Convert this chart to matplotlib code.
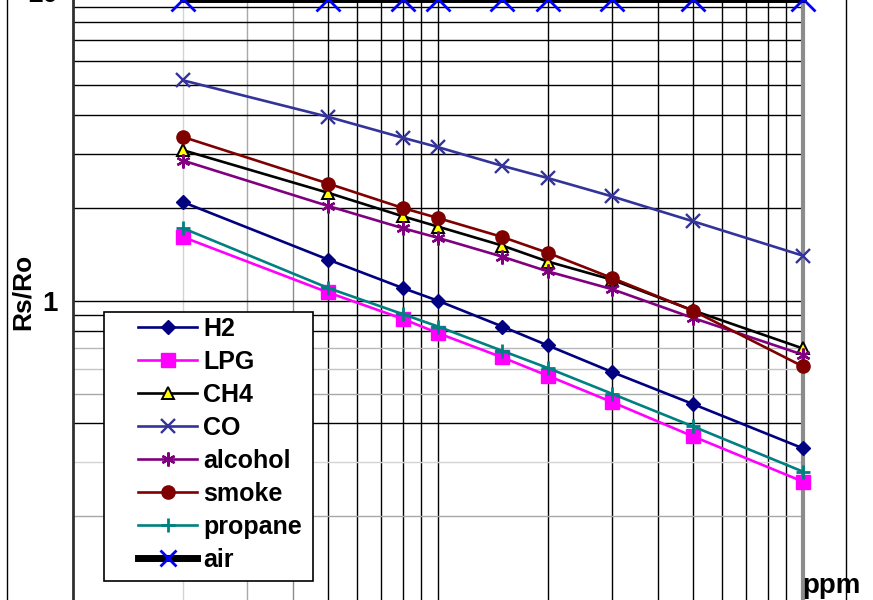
import matplotlib
matplotlib.use("Agg")
import matplotlib.pyplot as plt
from matplotlib.lines import Line2D
from matplotlib.patches import Rectangle

plt.rcParams['font.family'] = ['Liberation Sans', 'DejaVu Sans']

# concentration (ppm) and Rs/Ro for each gas
ppm = [200, 500, 800, 1000, 1500, 2000, 3000, 5000, 10000]
h2 = [2.09, 1.36, 1.10, 1.00, 0.825, 0.716, 0.587, 0.462, 0.332]
lpg = [1.61, 1.064, 0.874, 0.785, 0.655, 0.571, 0.469, 0.363, 0.259]
ch4 = [3.08, 2.24, 1.88, 1.74, 1.51, 1.34, 1.17, 0.93, 0.70]
co = [5.19, 3.95, 3.38, 3.15, 2.74, 2.50, 2.18, 1.81, 1.40]
alcohol = [2.85, 2.03, 1.72, 1.60, 1.39, 1.245, 1.09, 0.879, 0.668]
smoke = [3.40, 2.40, 2.00, 1.855, 1.61, 1.43, 1.185, 0.928, 0.612]
propane = [1.72, 1.10, 0.905, 0.825, 0.688, 0.605, 0.499, 0.391, 0.279]
air = [9.5, 9.5, 9.5, 9.5, 9.5, 9.5, 9.5, 9.5, 9.5]
labels = ["H2", "LPG", "CH4", "CO", "alcohol", "smoke", "propane", "air"]

W, H = 873, 600
fig = plt.figure(figsize=(W / 100, H / 100), dpi=100)
ax = fig.add_axes([73 / W, 1 - 609 / H, 730 / W, 616.5 / H])
ax.set_xscale('log')
ax.set_yscale('log')
ax.set_xlim(100, 10000)
ax.set_ylim(0.1, 10)

# grid lines (the original has a mix of black and grey ones)
vgrid = {200: '#d4d4d4', 300: '#a8a8a8', 400: '#8c8c8c'}
for v in [500, 600, 700, 800, 900, 1000, 2000, 3000, 4000, 5000, 6000, 7000, 8000, 9000]:
    vgrid[v] = 'black'
hgrid = {0.2: '#a8a8a8', 0.3: '#d4d4d4', 0.4: 'black', 0.5: '#a8a8a8',
         0.6: '#c4c4c4', 0.7: '#b8b8b8', 0.8: 'black', 0.9: 'black', 1: 'black'}
for v in [2, 3, 4, 5, 6, 7, 8, 9]:
    hgrid[v] = 'black'
for v, c in vgrid.items():
    ax.axvline(v, color=c, lw=1.0, zorder=1)
for v, c in hgrid.items():
    ax.axhline(v, color=c, lw=1.0, zorder=1)

lw = 1.9
lines = []
lines += ax.plot(ppm, h2, color='#000080', lw=lw, marker='D', ms=7, mec='#000080', mfc='#000080')
lines += ax.plot(ppm, lpg, color='#FF00FF', lw=lw, marker='s', ms=10.5, mec='#FF00FF', mfc='#FF00FF')
lines += ax.plot(ppm, ch4, color='black', lw=lw, marker='^', ms=8, mec='black', mfc='#FFFF00', mew=1.4)
lines += ax.plot(ppm, co, color='#333399', lw=lw, marker='x', ms=9.5, mew=1.7, mec='#333399')
lines += ax.plot(ppm, alcohol, color='#800080', lw=lw, marker=(6, 2, 0), ms=10, mew=1.7, mec='#800080')
lines += ax.plot(ppm, smoke, color='#800000', lw=lw, marker='o', ms=9.5, mec='#800000', mfc='#800000')
lines += ax.plot(ppm, propane, color='#008080', lw=lw, marker='+', ms=10, mew=2, mec='#008080')
lines += ax.plot(ppm, air, color='black', lw=5, marker='x', ms=17, mew=2, mec='#0000FF')
for ln in lines:
    ln.set_clip_on(False)
    ln.set_zorder(3)

for s in ['top', 'bottom']:
    ax.spines[s].set_visible(False)
ax.spines['left'].set_color('#303030')
ax.spines['left'].set_linewidth(2)
ax.spines['right'].set_color('#8c8c8c')
ax.spines['right'].set_linewidth(3)

ax.minorticks_off()
ax.set_xticks([])
ax.set_yticks([1, 10], ['1', '10'])
ax.tick_params(axis='y', length=0, pad=11, labelsize=20)
for t in ax.get_yticklabels():
    t.set_fontweight('bold')

fig.text(23 / W, 1 - 292 / H, 'Rs/Ro', rotation=90, ha='center', va='center',
         fontsize=19, fontweight='bold')
fig.text(802 / W, 1 - 573 / H, 'ppm', ha='left', va='top',
         fontsize=20, fontweight='bold')

# legend box
ax.add_patch(Rectangle((104 / W, 1 - 581 / H), 209 / W, 269 / H, transform=fig.transFigure,
                       facecolor='white', edgecolor='black', lw=1.2, zorder=4, clip_on=False))
leg = ax.legend(lines, labels, loc='upper left', bbox_to_anchor=(138 / W, 1 - 317 / H),
                bbox_transform=fig.transFigure, frameon=False, borderpad=0, borderaxespad=0,
                handlelength=2.36, handletextpad=0.24, labelspacing=0.36,
                prop={'family': ['Liberation Sans', 'DejaVu Sans'], 'weight': 'bold', 'size': 18})
leg.set_zorder(5)
leg.legend_handles[7].set_markersize(12)

# outer chart frame
for xp in [7, 846]:
    fig.add_artist(Line2D([xp / W, xp / W], [0, 1], transform=fig.transFigure, color='black', lw=1))

fig.savefig('out.png', dpi=100)
